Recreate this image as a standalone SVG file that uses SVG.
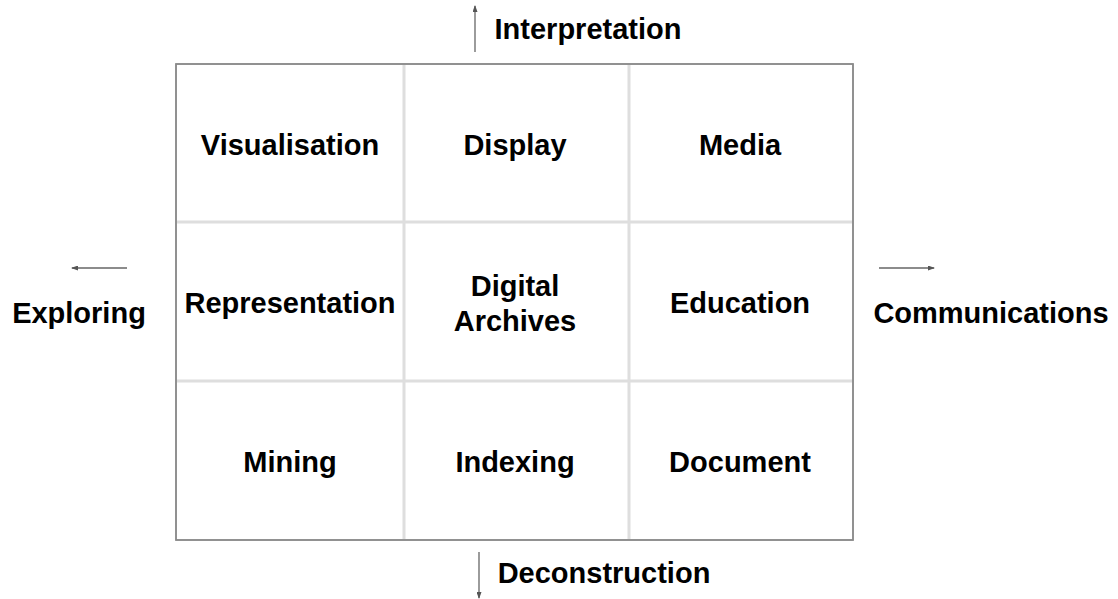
<svg xmlns="http://www.w3.org/2000/svg" width="1118" height="599" viewBox="0 0 1118 599">
  <style>
    .lbl { font-family: "Liberation Sans", Arial, sans-serif; font-weight: bold; font-size: 29px; fill: #000; text-anchor: middle; }
    .grid { stroke: #dedede; stroke-width: 3; fill: none; }
    .frame { stroke: #8a8a8a; stroke-width: 1.5; fill: #fff; }
    .axis { stroke: #666; stroke-width: 1.3; fill: none; }
  </style>
  <defs>
    <marker id="tip" viewBox="0 0 7 5" refX="6" refY="2.5" markerWidth="7" markerHeight="5" markerUnits="userSpaceOnUse" orient="auto">
      <path d="M0,0 L7,2.5 L0,5 Z" fill="#555"/>
    </marker>
  </defs>
  <rect width="1118" height="599" fill="#fff"/>

  <!-- 3x3 matrix frame -->
  <g id="matrix">
    <rect class="frame" x="176" y="64" width="677" height="476"/>
    <line class="grid" x1="404" y1="65" x2="404" y2="539"/>
    <line class="grid" x1="629" y1="65" x2="629" y2="539"/>
    <line class="grid" x1="177" y1="222" x2="852" y2="222"/>
    <line class="grid" x1="177" y1="381" x2="852" y2="381"/>
    <rect x="176" y="64" width="677" height="476" fill="none" stroke="#8a8a8a" stroke-width="1.5"/>
  </g>

  <g id="cell-visualisation"><text class="lbl" x="290" y="155">Visualisation</text></g>
  <g id="cell-display"><text class="lbl" x="515" y="155">Display</text></g>
  <g id="cell-media"><text class="lbl" x="740" y="155">Media</text></g>
  <g id="cell-representation"><text class="lbl" x="290" y="313">Representation</text></g>
  <g id="cell-digital-archives"><text class="lbl" x="515" y="296">Digital</text><text class="lbl" x="515" y="331">Archives</text></g>
  <g id="cell-education"><text class="lbl" x="740" y="313">Education</text></g>
  <g id="cell-mining"><text class="lbl" x="290" y="472">Mining</text></g>
  <g id="cell-indexing"><text class="lbl" x="515" y="472">Indexing</text></g>
  <g id="cell-document"><text class="lbl" x="740" y="472">Document</text></g>

  <!-- axis directions -->
  <g id="connectors">
    <line class="axis" x1="475" y1="52" x2="475" y2="6" marker-end="url(#tip)"/>
    <line class="axis" x1="479" y1="552" x2="479" y2="598" marker-end="url(#tip)"/>
    <line class="axis" x1="127" y1="268" x2="72" y2="268" marker-end="url(#tip)"/>
    <line class="axis" x1="879" y1="268" x2="934" y2="268" marker-end="url(#tip)"/>
  </g>

  <g id="axis-interpretation"><text class="lbl" x="588" y="39">Interpretation</text></g>
  <g id="axis-deconstruction"><text class="lbl" x="604" y="583">Deconstruction</text></g>
  <g id="axis-exploring"><text class="lbl" x="79" y="323">Exploring</text></g>
  <g id="axis-communications"><text class="lbl" x="991" y="323">Communications</text></g>
</svg>
